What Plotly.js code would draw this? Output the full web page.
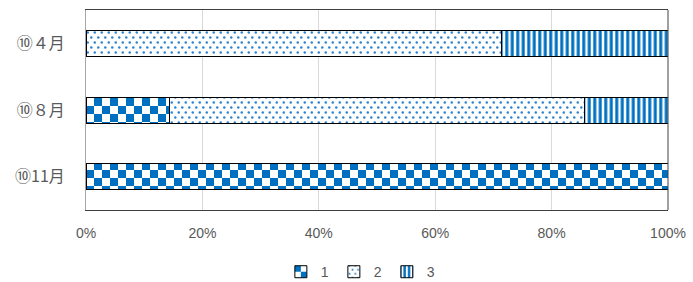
<!DOCTYPE html>
<html>
<head>
<meta charset="utf-8">
<script src="https://cdn.plot.ly/plotly-3.0.1.min.js"></script>
<style>
html,body{margin:0;padding:0;background:#fff;}
#chart{width:693px;height:282px;}
</style>
</head>
<body>
<div id="chart"></div>
<script>
// ---- data ----
const categories = ['⑩４月', '⑩８月', '⑩11月'];
const seriesNames = ['1', '2', '3'];
const series1 = [0, 14.3, 100];
const series2 = [71.4, 71.4, 0];
const series3 = [28.6, 14.3, 0];
const xTickVals = [0, 20, 40, 60, 80, 100];
const xTickText = ['0%', '20%', '40%', '60%', '80%', '100%'];

const BLUE = '#0070C0';
const GRAY_TXT = '#595959';

function barTrace(name, values, shape, size, solidity) {
  return {
    type: 'bar',
    orientation: 'h',
    name: name,
    y: categories,
    x: values,
    hoverinfo: 'skip',
    marker: {
      color: BLUE,
      line: {color: '#000000', width: 1},
      pattern: {shape: shape, size: size, solidity: solidity, fillmode: 'replace', bgcolor: '#ffffff', fgcolor: BLUE}
    }
  };
}

const data = [
  barTrace(seriesNames[0], series1, '+', 16, 0.5),
  barTrace(seriesNames[1], series2, '.', 6, 0.08),
  barTrace(seriesNames[2], series3, '|', 5.5, 0.55)
];

const layout = {
  width: 693,
  height: 282,
  margin: {l: 86, r: 25, t: 10, b: 72, pad: 0},
  paper_bgcolor: '#ffffff',
  plot_bgcolor: '#ffffff',
  barmode: 'stack',
  bargap: 0.61,
  showlegend: true,
  xaxis: {
    range: [0, 100],
    tickvals: xTickVals,
    ticktext: xTickText,
    showgrid: true,
    gridcolor: '#d9d9d9',
    gridwidth: 1,
    zeroline: false,
    showline: true,
    mirror: true,
    linecolor: '#404040',
    linewidth: 1,
    ticks: '',
    ticklabelstandoff: 10,
    tickfont: {family: 'Liberation Sans, Arial, sans-serif', size: 14, color: GRAY_TXT},
    fixedrange: true
  },
  yaxis: {
    type: 'category',
    categoryorder: 'array',
    categoryarray: categories,
    autorange: 'reversed',
    showgrid: false,
    zeroline: false,
    showline: true,
    linecolor: '#a6a6a6',
    linewidth: 1,
    ticks: '',
    ticklabelstandoff: 17,
    tickfont: {family: 'Noto Sans CJK JP, sans-serif', size: 16, color: GRAY_TXT},
    fixedrange: true
  },
  shapes: [
    {type: 'line', xref: 'paper', yref: 'paper', x0: 1, x1: 1, y0: 0, y1: 1,
     line: {color: '#404040', width: 1}, layer: 'above'}
  ],
  legend: {
    orientation: 'h',
    xref: 'container', yref: 'container',
    x: 0.52, xanchor: 'center',
    y: 0.035, yanchor: 'middle',
    traceorder: 'normal',
    itemwidth: 30,
    font: {family: 'Liberation Sans, Arial, sans-serif', size: 14, color: GRAY_TXT},
    bgcolor: 'rgba(0,0,0,0)'
  }
};

const SVGNS = 'http://www.w3.org/2000/svg';

function idsForTrace(gd, name) {
  const ids = new Set();
  const grab = el => {
    const f = (el.style && el.style.fill) || el.getAttribute('fill') || '';
    const m = f.match(/#([^'")\s]+)/);
    if (m) ids.add(m[1]);
  };
  const idx = seriesNames.indexOf(name);
  const traces = gd.querySelectorAll('.barlayer .trace');
  if (traces[idx]) traces[idx].querySelectorAll('path').forEach(grab);
  gd.querySelectorAll('.legend .traces').forEach(t => {
    const tx = t.querySelector('.legendtext');
    if (tx && tx.textContent === name) t.querySelectorAll('.legendpoints path').forEach(grab);
  });
  return ids;
}

function rewritePattern(id, w, h, build) {
  const pat = document.getElementById(id);
  if (!pat) return;
  while (pat.firstChild) pat.removeChild(pat.firstChild);
  pat.setAttribute('width', w);
  pat.setAttribute('height', h);
  const bg = document.createElementNS(SVGNS, 'rect');
  bg.setAttribute('x', 0); bg.setAttribute('y', 0);
  bg.setAttribute('width', w); bg.setAttribute('height', h);
  bg.setAttribute('fill', '#ffffff');
  pat.appendChild(bg);
  build(pat);
}

function addRect(pat, x, y, w, h, c) {
  const r = document.createElementNS(SVGNS, 'rect');
  r.setAttribute('x', x); r.setAttribute('y', y);
  r.setAttribute('width', w); r.setAttribute('height', h);
  r.setAttribute('fill', c);
  pat.appendChild(r);
}
function addDot(pat, cx, cy, rr, c) {
  const e = document.createElementNS(SVGNS, 'circle');
  e.setAttribute('cx', cx); e.setAttribute('cy', cy); e.setAttribute('r', rr);
  e.setAttribute('fill', c);
  pat.appendChild(e);
}

function stylePatterns() {
  const gd = document.getElementById('chart');
  idsForTrace(gd, seriesNames[0]).forEach(id => rewritePattern(id, 16, 16, pat => {
    addRect(pat, 0, 0, 8, 8, BLUE);
    addRect(pat, 8, 8, 8, 8, BLUE);
  }));
  idsForTrace(gd, seriesNames[1]).forEach(id => rewritePattern(id, 7, 10, pat => {
    addDot(pat, 1.75, 2.5, 1.25, '#2a82d0');
    addDot(pat, 5.25, 7.5, 1.25, '#2a82d0');
  }));
}

Plotly.newPlot('chart', data, layout, {displayModeBar: false, staticPlot: true}).then(stylePatterns);
</script>
</body>
</html>
